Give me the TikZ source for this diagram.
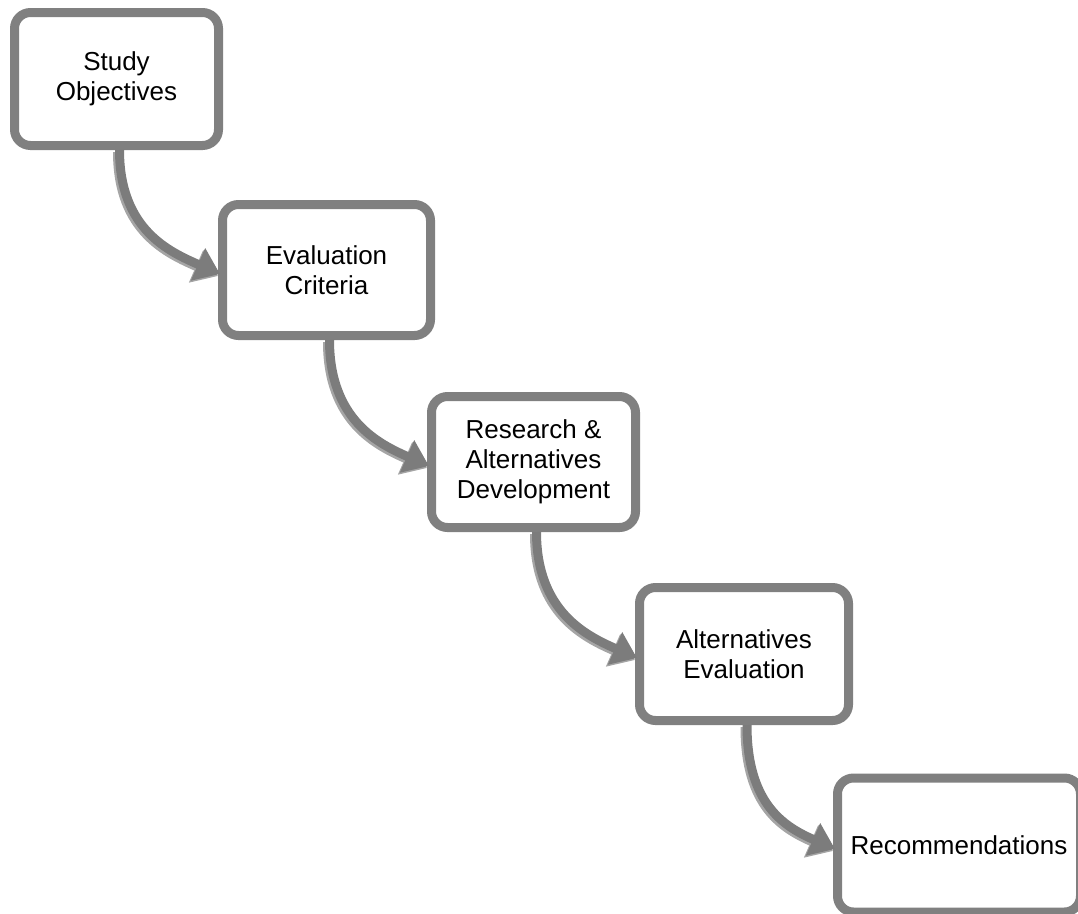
\documentclass[tikz,border=0pt]{standalone}
\usepackage{fontspec}
\setmainfont{Liberation Sans}
\usetikzlibrary{arrows.meta,calc}
\definecolor{boxgray}{RGB}{128,128,128}
\definecolor{arrgray}{RGB}{124,124,124}
\definecolor{shadegray}{RGB}{165,165,165}
\begin{document}
\begin{tikzpicture}[x=1pt,y=1pt,
  stepbox/.style={draw=boxgray, line width=9pt, rounded corners=16pt, fill=white,
    inner sep=0pt, align=center, font=\fontsize{26}{30}\selectfont},
  flow/.style={draw=arrgray, line width=9pt, -{Triangle[length=24pt,width=34pt]}},
  flowshade/.style={draw=shadegray, line width=9pt, -{Triangle[length=24pt,width=34pt]}}]
\useasboundingbox (0,0) rectangle (1078,-913);
\node[stepbox, minimum width=204pt, minimum height=133pt] (a) at (116.5,-79) {Study\\Objectives};
\node[stepbox, minimum width=208pt, minimum height=131pt] (b) at (326.5,-270) {Evaluation\\Criteria};
\node[stepbox, minimum width=204pt, minimum height=131pt] (c) at (533.5,-462) {Research \&\\Alternatives\\Development};
\node[stepbox, minimum width=209pt, minimum height=133pt] (d) at (744,-654) {Alternatives\\Evaluation};
\node[stepbox, minimum width=243pt, minimum height=134pt] (e) at (959,-845) {Recommendations};
\foreach \s/\t in {a/b,b/c,c/d,d/e}{
  \draw[flowshade, transform canvas={shift={(-2pt,-2pt)}}] ($(\s.south)+(3,0)$) .. controls +(0,-80) and +(-50,22) .. ($(\t.west)+(2,-4)$);
  \draw[flow] ($(\s.south)+(3,0)$) .. controls +(0,-80) and +(-50,22) .. ($(\t.west)+(2,-4)$);
}
\end{tikzpicture}
\end{document}
